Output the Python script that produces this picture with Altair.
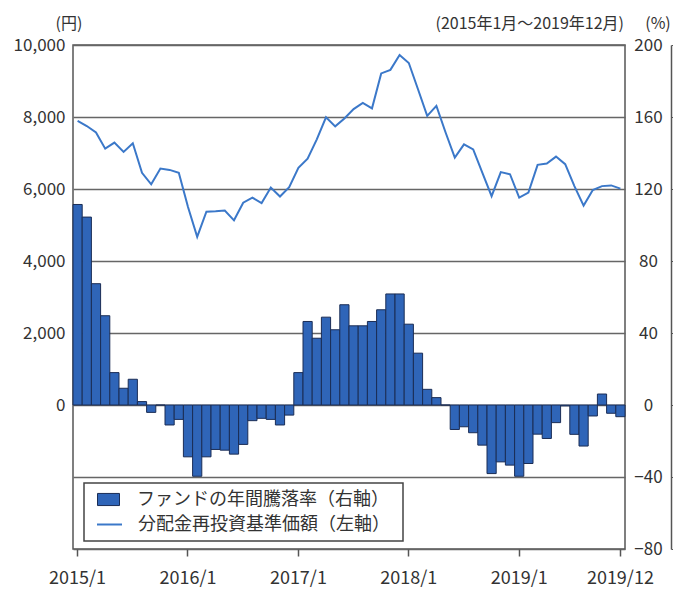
import altair as alt
import pandas as pd

# ---- data -------------------------------------------------------------
years = [2015, 2016, 2017, 2018, 2019]
months = [f"{y}/{m}" for y in years for m in range(1, 13)]

# annual return of the fund (%), right axis
pct_2015 = [111.4, 104.4, 67.4, 49.6, 18.0, 9.3, 14.3, 1.9, -4.1, 0.0, -11.1, -8.0]
pct_2016 = [-28.8, -39.6, -28.8, -24.7, -25.1, -27.3, -21.9, -8.7, -7.4, -8.0, -11.1, -5.6]
pct_2017 = [18.0, 46.4, 37.1, 48.8, 41.8, 55.7, 44.0, 44.0, 46.4, 52.9, 61.7, 61.7]
pct_2018 = [44.9, 28.8, 8.7, 4.1, 0.0, -13.6, -12.1, -15.4, -22.3, -38.1, -31.6, -33.4]
pct_2019 = [-39.6, -32.5, -16.2, -18.6, -9.8, -0.5, -16.3, -22.8, -6.1, 6.1, -4.6, -6.5]

# NAV with dividends reinvested (yen), left axis
nav_2015 = [7890, 7750, 7570, 7120, 7290, 7030, 7270, 6450, 6130, 6570, 6530, 6450]
nav_2016 = [5500, 4670, 5370, 5380, 5400, 5130, 5620, 5760, 5610, 6040, 5790, 6050]
nav_2017 = [6590, 6840, 7380, 7990, 7740, 7960, 8220, 8390, 8240, 9210, 9310, 9720]
nav_2018 = [9500, 8770, 8030, 8310, 7570, 6870, 7240, 7100, 6450, 5800, 6470, 6410]
nav_2019 = [5760, 5900, 6670, 6710, 6900, 6690, 6080, 5540, 5970, 6080, 6100, 6010]

pct = pct_2015 + pct_2016 + pct_2017 + pct_2018 + pct_2019
nav = nav_2015 + nav_2016 + nav_2017 + nav_2018 + nav_2019

x_ticks = ["2015/1", "2016/1", "2017/1", "2018/1", "2019/1", "2019/12"]
left_ticks = [-4000, -2000, 0, 2000, 4000, 6000, 8000, 10000]
right_ticks = [-80, -40, 0, 40, 80, 120, 160, 200]

bar_name = "ファンドの年間騰落率（右軸）"
line_name = "分配金再投資基準価額（左軸）"

df = pd.DataFrame({"month": months, "pct": pct, "nav": nav,
                   "s_bar": bar_name, "s_line": line_name})

FONT = "Noto Sans CJK JP"
TXT = "#333333"
BAR_FILL = "#2f65b8"
BAR_STROKE = "#1b2d55"
LINE_COL = "#3b78c9"

W, H = 552, 504

xenc = alt.X("month:O", sort=months, title=None,
             scale=alt.Scale(paddingInner=0, paddingOuter=0),
             axis=alt.Axis(values=x_ticks, labelAngle=0, domain=False,
                           ticks=True, tickSize=7, tickColor="#555555",
                           tickWidth=1.5, labelPadding=13, labelAlign="center",
                           labelFontSize=18, labelBaseline="top"))

bars = alt.Chart(df).mark_bar(stroke=BAR_STROKE, strokeWidth=1).encode(
    x=xenc,
    y=alt.Y("pct:Q", title=None,
            scale=alt.Scale(domain=[-80, 200], nice=False, zero=False),
            axis=alt.Axis(orient="right", values=right_ticks, grid=False,
                          offset=46, domain=True, domainColor="#555555",
                          domainWidth=1.5, ticks=True, tickSize=3,
                          tickColor="#555555", labelAlign="center",
                          labelPadding=-26)),
    color=alt.Color("s_bar:N", title=None,
                    scale=alt.Scale(domain=[bar_name], range=[BAR_FILL]),
                    legend=alt.Legend(orient="none", legendX=24, legendY=443,
                                      symbolType="M-1,-0.55H1V0.55H-1Z",
                                      symbolSize=484, symbolStrokeColor=BAR_STROKE,
                                      symbolStrokeWidth=1, labelOffset=17,
                                      labelLimit=400, padding=0)),
)

line = alt.Chart(df).mark_line(color=LINE_COL, strokeWidth=2).encode(
    x=alt.X("month:O", sort=months),
    y=alt.Y("nav:Q", title=None,
            scale=alt.Scale(domain=[-4000, 10000], nice=False, zero=False),
            axis=alt.Axis(orient="left", values=left_ticks, grid=True,
                          gridColor="#666666", gridWidth=1.5, domain=False,
                          ticks=False, labelPadding=8,
                          labelExpr="datum.value < 0 ? '' : format(datum.value, ',')")),
    stroke=alt.Stroke("s_line:N", title=None,
                      scale=alt.Scale(domain=[line_name], range=[LINE_COL]),
                      legend=alt.Legend(orient="none", legendX=23, legendY=466,
                                        symbolType="stroke", symbolSize=625,
                                        symbolStrokeWidth=2, labelOffset=15,
                                        labelLimit=400, padding=0)),
)

one = alt.Data(values=[{}])
legend_box = alt.Chart(one).mark_rect(fill="white", stroke="#444444", strokeWidth=1.5).encode(
    x=alt.value(11), x2=alt.value(330), y=alt.value(438), y2=alt.value(496))

t_yen = alt.Chart(one).mark_text(text="(円)", font=FONT, fontSize=16, color=TXT,
                                 align="center", baseline="middle").encode(
    x=alt.value(-4), y=alt.value(-21))
t_period = alt.Chart(one).mark_text(text="(2015年1月～2019年12月)", font=FONT, fontSize=16,
                                    color=TXT, align="right", baseline="middle").encode(
    x=alt.value(551), y=alt.value(-21))
t_pct = alt.Chart(one).mark_text(text="(%)", font=FONT, fontSize=16, color=TXT,
                                 align="center", baseline="middle").encode(
    x=alt.value(585), y=alt.value(-21))

chart = alt.layer(bars, line, legend_box, t_yen, t_period, t_pct).resolve_scale(
    y="independent", color="independent", stroke="independent"
).properties(
    width=W, height=H,
    autosize=alt.AutoSizeParams(type="none"),
    padding={"left": 65, "top": 37, "right": 48, "bottom": 41},
).configure_view(
    stroke="#555555", strokeWidth=1.5
).configure_axis(
    labelFont=FONT, labelFontSize=17, labelColor=TXT
).configure_legend(
    labelFont=FONT, labelFontSize=18, labelColor=TXT, rowPadding=4
)

chart.save("out.html", embed_options={"renderer": "svg", "actions": False})
